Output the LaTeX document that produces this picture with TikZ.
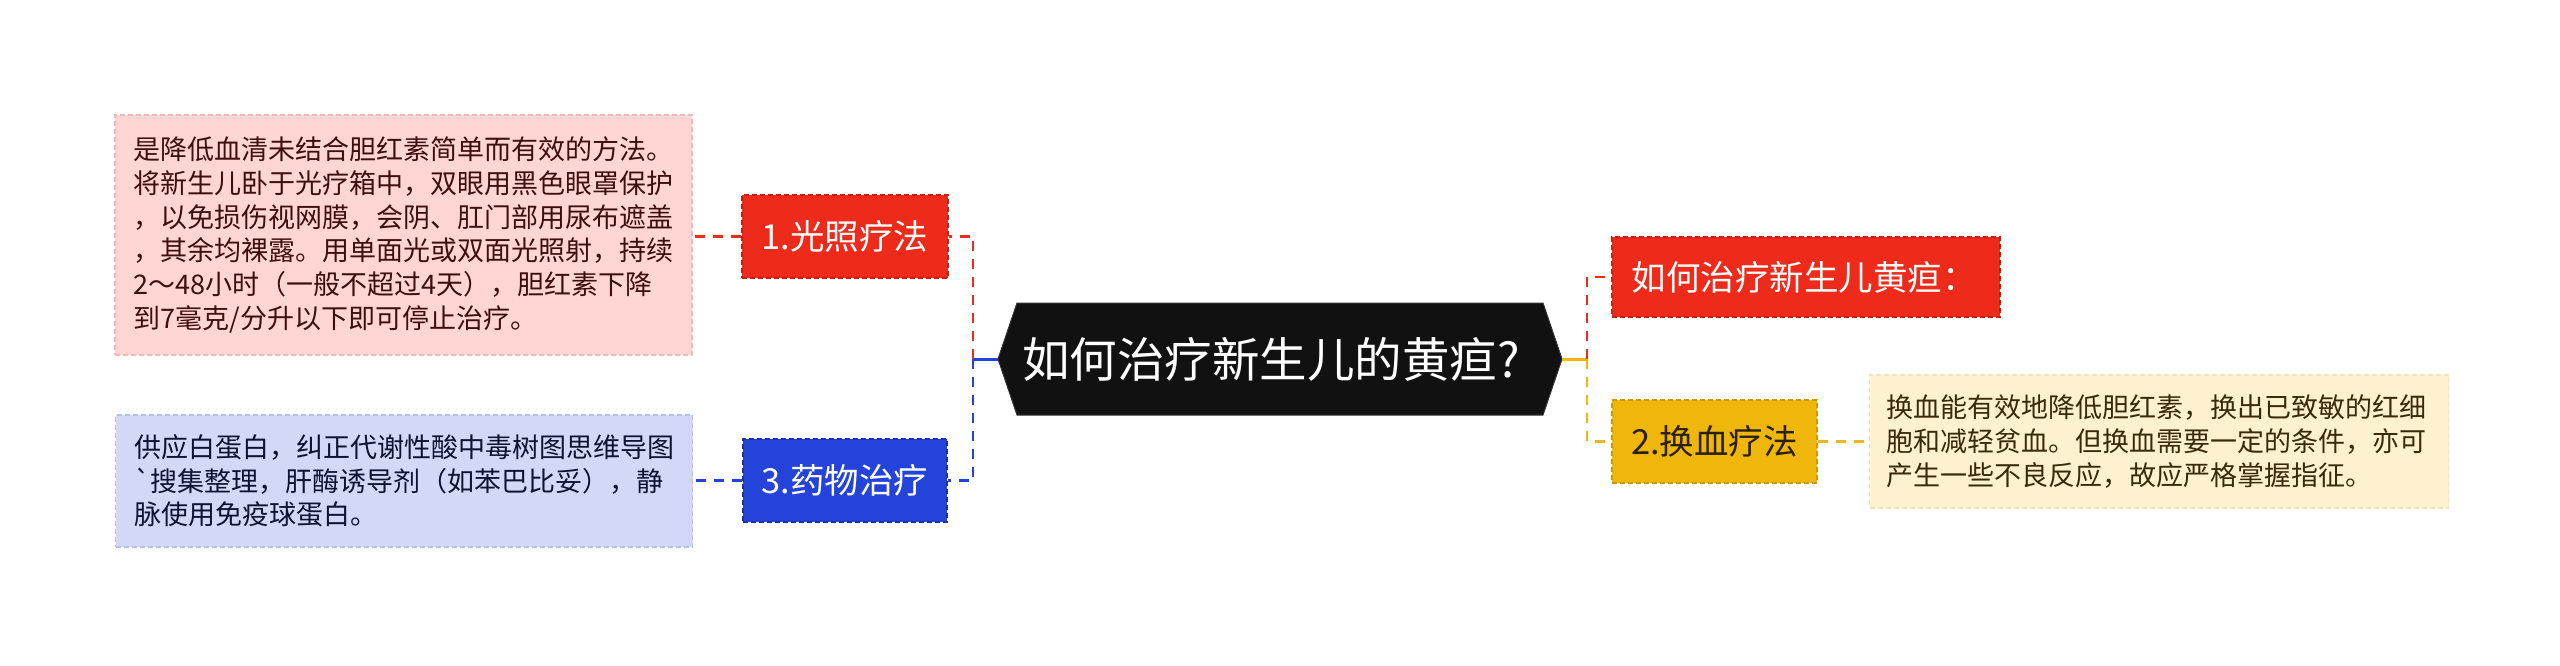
\documentclass[tikz,border=0pt]{standalone}
\usepackage{fontspec}
\setmainfont{Noto Sans CJK SC}
\usetikzlibrary{backgrounds}
\definecolor{pinkfill}{HTML}{FFD6D3}
\definecolor{pinkedge}{HTML}{F2B8B4}
\definecolor{pinktext}{HTML}{3F0E0E}
\definecolor{bluefill}{HTML}{D4D8F7}
\definecolor{blueedge}{HTML}{B8BFEF}
\definecolor{bluetext}{HTML}{0E1333}
\definecolor{creamfill}{HTML}{FDF1D0}
\definecolor{creamedge}{HTML}{F3E3B8}
\definecolor{creamtext}{HTML}{3A2A08}
\definecolor{redc}{HTML}{EE2A1B}
\definecolor{rededge}{HTML}{C91E12}
\definecolor{bluec}{HTML}{2443DA}
\definecolor{blueedgec}{HTML}{1A31A8}
\definecolor{yellowc}{HTML}{EFB70B}
\definecolor{yellowedge}{HTML}{CF9A05}
\definecolor{yellowtext}{HTML}{2B2000}
\definecolor{hexfill}{HTML}{111111}
\begin{document}
\begin{tikzpicture}[x=1pt,y=-1pt,
  textbox/.style={draw, dash pattern=on 5pt off 3pt, line width=1.2pt,
    inner xsep=18.5pt, inner ysep=0pt, align=left, text width=540pt,
    font=\fontsize{27}{33.7}\selectfont},
  topic/.style={draw, dash pattern=on 5pt off 3pt, line width=1.2pt,
    minimum height=83pt, inner xsep=0pt, inner ysep=0pt,
    font=\fontsize{34.5}{40}\selectfont},
  conn/.style={line width=2.8pt, dash pattern=on 10pt off 8pt},
  stub/.style={line width=3pt}]
\useasboundingbox (0,0) rectangle (2560,665);
\begin{scope}[on background layer]
  \fill[white] (0,0) rectangle (2560,665);
\end{scope}

% central node
\node (ct) [inner sep=0pt, text=white, font=\fontsize{47.5}{52}\selectfont,
  anchor=west] at (1022,359) {如何治疗新生儿的黄疸?};
\coordinate (cw) at (998,359);
\coordinate (ce) at (1562,359);
\begin{scope}[on background layer]
  \filldraw[fill=hexfill, draw=black!80, line width=1pt]
    (cw) -- ([xshift=19pt]cw |- 0,303) -- ([xshift=-19pt]ce |- 0,303) -- (ce)
    -- ([xshift=-19pt]ce |- 0,415) -- ([xshift=19pt]cw |- 0,415) -- cycle;
\end{scope}

% left topics
\node (n1) [topic, fill=redc, draw=rededge, text=white, minimum width=206pt]
  at (845,236.5) {1.光照疗法};
\node (n3) [topic, fill=bluec, draw=blueedgec, text=white, minimum width=204pt]
  at (845,480.5) {3.药物治疗};

% left text boxes
\node (pk) [textbox, fill=pinkfill, draw=pinkedge, text=pinktext,
  minimum height=240pt] at (403.5,235) {%
是降低血清未结合胆红素简单而有效的方法。\\
将新生儿卧于光疗箱中，双眼用黑色眼罩保护\\
，以免损伤视网膜，会阴、肛门部用尿布遮盖\\
，其余均裸露。用单面光或双面光照射，持续\\
2～48小时（一般不超过4天），胆红素下降\\
到7毫克/分升以下即可停止治疗。};
\node (bl) [textbox, fill=bluefill, draw=blueedge, text=bluetext,
  minimum height=132pt] at (404,481) {%
供应白蛋白，纠正代谢性酸中毒树图思维导图\\
\textasciigrave 搜集整理，肝酶诱导剂（如苯巴比妥），静\\
脉使用免疫球蛋白。};

% right topics
\node (nr) [topic, fill=redc, draw=rededge, text=white, minimum width=388pt,
  minimum height=80pt] at (1806,277) {如何治疗新生儿黄疸：\hspace*{4pt}};
\node (n2) [topic, fill=yellowc, draw=yellowedge, text=yellowtext,
  minimum width=205pt] at (1714.5,441.5) {2.换血疗法};

\node (cr) [textbox, fill=creamfill, draw=creamedge, text=creamtext,
  minimum height=133pt, text width=545pt, inner xsep=17pt] at (2159,441.5) {%
换血能有效地降低胆红素，换出已致敏的红细\\
胞和减轻贫血。但换血需要一定的条件，亦可\\
产生一些不良反应，故应严格掌握指征。};

% junctions
\coordinate (jl) at (973,359);
\coordinate (jr) at (1587,359);

% connectors left
\draw[stub, bluec] (cw) -- (jl);
\draw[conn, redc] (jl) |- (n1.east);
\draw[conn, bluec] (jl) |- (n3.east);
\draw[conn, redc] (n1.west) -- (n1.west -| pk.east);
\draw[conn, bluec] (n3.west) -- (n3.west -| bl.east);

% connectors right
\draw[stub, yellowc] (ce) -- (jr);
\draw[conn, redc] (jr) |- (nr.west);
\draw[conn, yellowc] (jr) |- (n2.west);
\draw[conn, yellowc] (n2.east) -- (n2.east -| cr.west);
\end{tikzpicture}
\end{document}
